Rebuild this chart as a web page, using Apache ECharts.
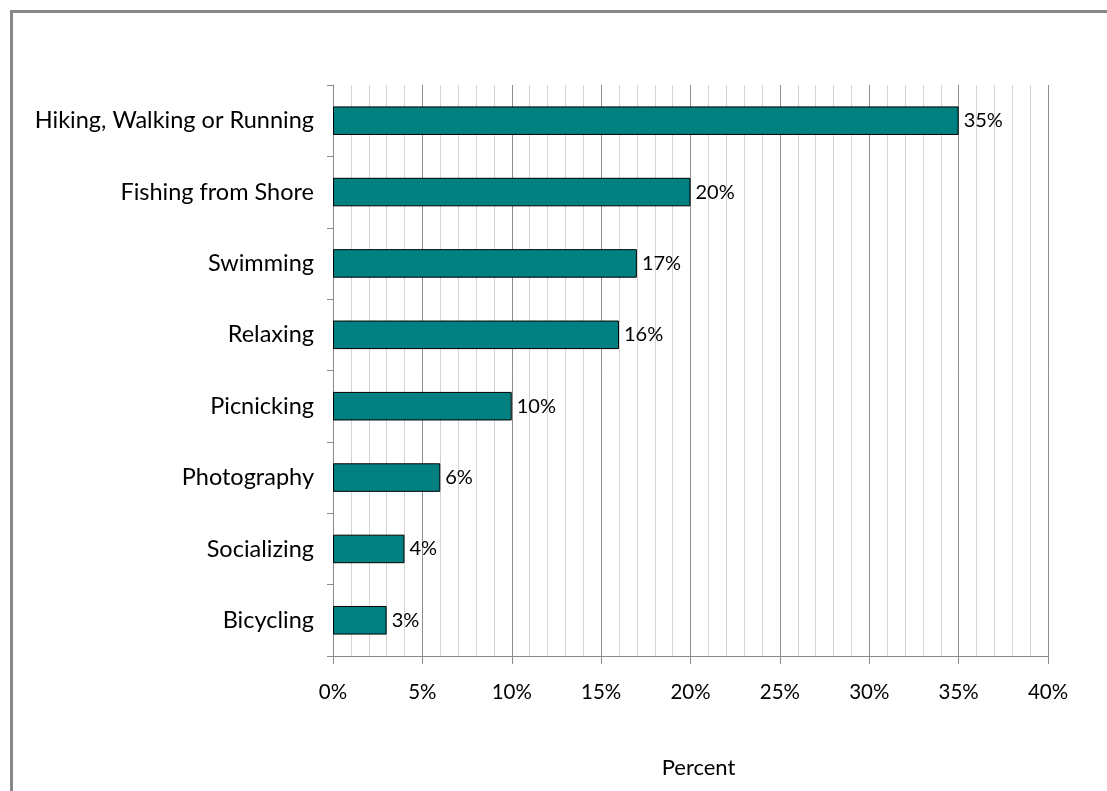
<!DOCTYPE html>
<html><head><meta charset="utf-8">
<script src="https://cdn.jsdelivr.net/npm/echarts@6/dist/echarts.min.js"></script>
<style>html,body{margin:0;padding:0;background:#fff;}#c{width:1107px;height:791px;}</style>
</head><body><div id="c"></div>
<script>
const categories = ["Hiking, Walking or Running","Fishing from Shore","Swimming","Relaxing","Picnicking","Photography","Socializing","Bicycling"];
const values = [35,20,17,16,10,6,4,3];
const xTicks = [0,5,10,15,20,25,30,35,40];
const FONT = "Lato, 'Open Sans', sans-serif";
const chart = echarts.init(document.getElementById('c'));
chart.setOption({
  animation:false,
  graphic:[{type:'rect',shape:{x:11.5,y:11.5,width:1200,height:900},style:{fill:'none',stroke:'#878787',lineWidth:3},silent:true}],
  grid:{left:333,right:59,top:85,bottom:135,containLabel:false},
  xAxis:{type:'value',min:0,max:40,interval:5,
    axisLine:{show:true,lineStyle:{color:'#8a8a8a',width:1}},
    axisTick:{show:true,length:8,lineStyle:{color:'#8a8a8a'}},
    axisLabel:{formatter:v=>v+'%',fontSize:20.5,color:'#000',fontFamily:FONT,margin:26},
    splitLine:{show:true,lineStyle:{color:'#8f8f8f',width:1}},
    minorTick:{show:false,splitNumber:5},
    minorSplitLine:{show:true,lineStyle:{color:'#d3d3d3',width:1}},
    name:'Percent',nameLocation:'middle',nameGap:101,
    nameTextStyle:{fontSize:22,color:'#000',fontFamily:FONT,padding:[0,0,0,16]}
  },
  yAxis:{type:'category',data:categories,inverse:true,
    axisLine:{show:true,lineStyle:{color:'#8a8a8a',width:1}},
    axisTick:{show:true,length:6,lineStyle:{color:'#8a8a8a'}},
    axisLabel:{fontSize:23.5,color:'#000',fontFamily:FONT,margin:19},
    splitLine:{show:false}
  },
  series:[{type:'bar',data:values,barWidth:'40%',
    itemStyle:{color:'#008080',borderColor:'#000',borderWidth:1},
    label:{show:true,position:'right',distance:5,formatter:p=>p.value+'%',fontSize:20,color:'#000',fontFamily:FONT}
  }]
});
</script></body></html>
